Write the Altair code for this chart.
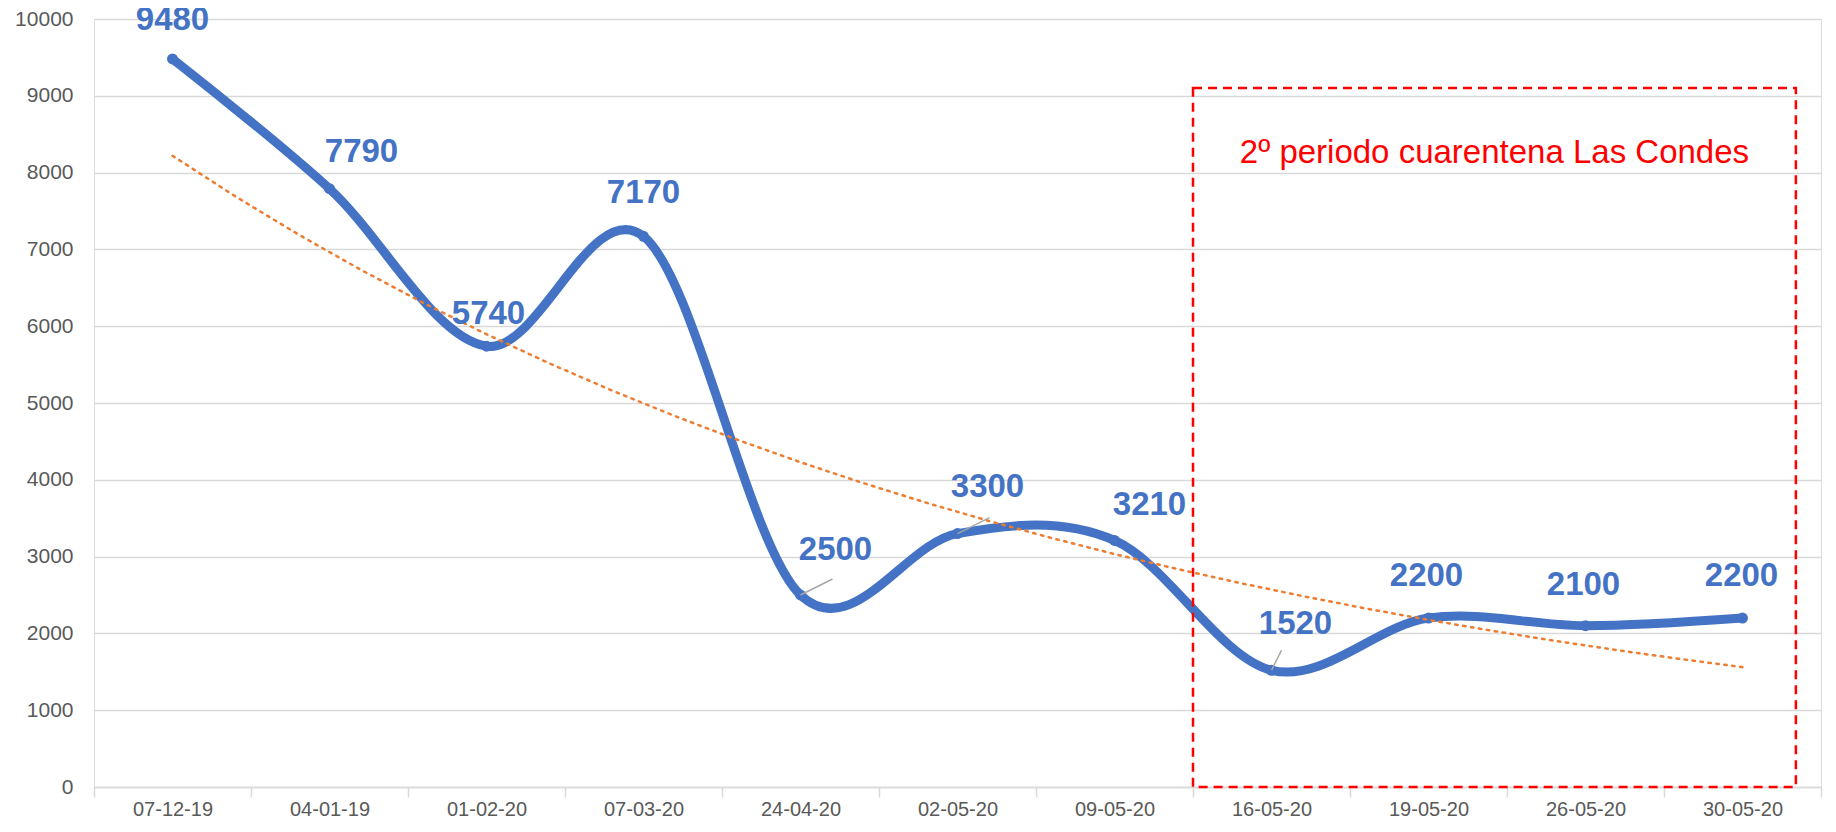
import altair as alt
import pandas as pd

categories = ["07-12-19", "04-01-19", "01-02-20", "07-03-20", "24-04-20", "02-05-20",
              "09-05-20", "16-05-20", "19-05-20", "26-05-20", "30-05-20"]
values = [9480, 7790, 5740, 7170, 2500, 3300, 3210, 1520, 2200, 2100, 2200]
label_dx = [0, 32, 2, 0, 35, 30, 35, 24, -2, -2, -1]
label_dy = [-39, -37, -32, -43, -45, -47, -35, -46, -42, -41, -42]

region_text = "2º periodo cuarentena Las Condes"
region_x = [6.5, 10.34]
region_top = 9100
region_text_pos = [8.42, 8255]

W, H = 1727, 768
BLUE = "#4472C4"
ORANGE = "#ED7D31"
GRID = "#D9D9D9"
FONT = "Liberation Sans"

df = pd.DataFrame({
    "idx": list(range(len(categories))),
    "cat": categories,
    "value": values,
    "dx": label_dx,
    "dy": label_dy,
})

arr = "[" + ",".join(f"'{c}'" for c in categories) + "]"
band = W / len(categories)

x_scale = alt.Scale(domain=[-0.5, len(categories) - 0.5], nice=False, zero=False)
y_scale = alt.Scale(domain=[0, 10000], nice=False)

x_enc = alt.X("idx:Q", scale=x_scale, title=None,
              axis=alt.Axis(values=[i - 0.5 for i in range(len(categories) + 1)],
                            labelExpr=f"{arr}[round(datum.value + 0.5)] || ''",
                            labelOffset=band / 2, labelOverlap=False, labelBound=False,
                            labelFlush=False, labelAlign="center",
                            labelFont=FONT, labelFontSize=20, labelColor="#595959",
                            labelPadding=2,
                            grid=False, domainColor=GRID, domainWidth=1.5,
                            tickColor=GRID, tickWidth=1.5, tickSize=10))
y_enc = alt.Y("value:Q", scale=y_scale, title=None,
              axis=alt.Axis(values=list(range(0, 10001, 1000)), grid=True, format="d",
                            gridColor=GRID, gridWidth=1.5, domain=False, ticks=False,
                            labelFont=FONT, labelFontSize=21, labelColor="#595959",
                            labelPadding=21))

base = alt.Chart(df)

line = base.mark_line(color=BLUE, strokeWidth=9, interpolate="cardinal",
                      strokeCap="round", strokeJoin="round").encode(x=x_enc, y=y_enc)
points = base.mark_circle(color=BLUE, size=120, opacity=1).encode(x="idx:Q", y="value:Q")

trend = (base.transform_calculate(lv="log(datum.value)")
         .transform_regression("idx", "lv", method="poly", order=1)
         .transform_calculate(value="exp(datum.lv)")
         .mark_line(color=ORANGE, strokeWidth=2.5, strokeDash=[2.5, 5.5], strokeCap="round")
         .encode(x="idx:Q", y="value:Q"))

leader1 = base.transform_filter(alt.FieldOneOfPredicate(field="value", oneOf=[2500, 3300])).mark_rule(
    color="#A6A6A6", strokeWidth=1.5, x2Offset=32, y2Offset=-16
).encode(x="idx:Q", y="value:Q", x2="idx:Q", y2="value:Q")
leader2 = base.transform_filter(alt.datum.value == 1520).mark_rule(
    color="#A6A6A6", strokeWidth=1.5, x2Offset=10, y2Offset=-20
).encode(x="idx:Q", y="value:Q", x2="idx:Q", y2="value:Q")

labels = base.mark_text(font=FONT, fontSize=33, fontWeight="bold", color=BLUE,
                        baseline="middle", align="center",
                        dx=alt.ExprRef("datum.dx"), dy=alt.ExprRef("datum.dy")).encode(
    x="idx:Q", y="value:Q", text="value:Q")

box = alt.Chart(pd.DataFrame({"x0": [region_x[0]], "x1": [region_x[1]],
                              "y0": [0], "y1": [region_top]})).mark_rect(
    filled=False, stroke="#FF0000", strokeWidth=2.5, strokeDash=[9, 6]
).encode(x="x0:Q", x2="x1:Q", y="y0:Q", y2="y1:Q")

box_text = alt.Chart(pd.DataFrame({"x": [region_text_pos[0]], "y": [region_text_pos[1]],
                                   "t": [region_text]})).mark_text(
    font=FONT, fontSize=33, color="#FF0000", baseline="middle", align="center"
).encode(x="x:Q", y="y:Q", text="t:N")

chart = alt.layer(line, points, box, trend, leader1, leader2, labels, box_text).properties(
    width=W, height=H,
    autosize=alt.AutoSizeParams(type="none"),
    padding={"left": 86, "top": 11, "right": 7, "bottom": 40},
).configure_view(stroke=None).configure(background="white")

chart.save("out.html", embed_options={"renderer": "svg", "actions": False})
